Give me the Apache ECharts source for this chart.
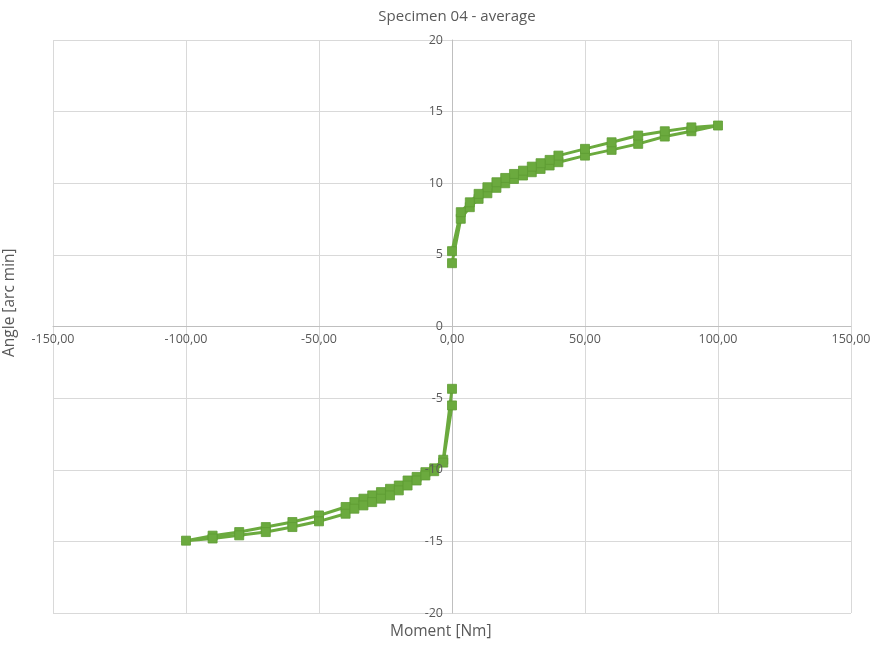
<!DOCTYPE html>
<html>
<head>
<meta charset="utf-8">
<script src="https://cdn.jsdelivr.net/npm/echarts@6/dist/echarts.min.js"></script>
<style>html,body{margin:0;padding:0;background:#fff}#c{width:876px;height:650px}</style>
</head>
<body>
<div id="c"></div>
<script>
// Moment [Nm] values
const posMoment = [0, 3.3, 6.7, 10, 13.3, 16.7, 20, 23.3, 26.7, 30, 33.3, 36.7, 40, 50, 60, 70, 80, 90, 100];
const posLower  = [4.42, 7.52, 8.33, 8.91, 9.30, 9.68, 10.0, 10.3, 10.54, 10.77, 11.0, 11.24, 11.47, 11.93, 12.33, 12.75, 13.26, 13.63, 14.03];
const posUpper  = [5.26, 7.98, 8.67, 9.26, 9.72, 10.07, 10.37, 10.65, 10.88, 11.16, 11.4, 11.63, 11.93, 12.4, 12.86, 13.33, 13.63, 13.9, 14.03];

const negMoment = [0, -3.3, -6.7, -10, -13.3, -16.7, -20, -23.3, -26.7, -30, -33.3, -36.7, -40, -50, -60, -70, -80, -90, -100];
const negUpper  = [-4.35, -9.3, -9.9, -10.17, -10.5, -10.75, -11.1, -11.33, -11.56, -11.79, -12.02, -12.26, -12.6, -13.19, -13.65, -14.0, -14.35, -14.6, -14.95];
const negLower  = [-5.51, -9.5, -10.1, -10.4, -10.75, -11.1, -11.44, -11.79, -12.02, -12.26, -12.49, -12.72, -13.07, -13.6, -14.0, -14.35, -14.58, -14.8, -14.95];

const xTicks = [-150, -100, -50, 0, 50, 100, 150];
const yTicks = [-20, -15, -10, -5, 0, 5, 10, 15, 20];

function loop(m, a, b) {
  const d = m.map((x, i) => [x, a[i]]);
  for (let i = m.length - 2; i >= 0; i--) d.push([m[i], b[i]]);
  return d;
}

const green = '#6BAA3E';
const font = '"Open Sans", "Liberation Sans", sans-serif';
const chart = echarts.init(document.getElementById('c'));
const seriesStyle = {
  type: 'line', symbol: 'rect', symbolSize: 9, showSymbol: true,
  xAxisIndex: 0, yAxisIndex: 0,
  lineStyle: { color: green, width: 3 },
  itemStyle: { color: green, borderColor: '#5E9C34', borderWidth: 0.8 },
  animation: false
};
const grid = { left: 53, right: 25, top: 40, bottom: 37 };
const yBase = {
  type: 'value', min: yTicks[0], max: yTicks[yTicks.length - 1], interval: 5,
  position: 'left', axisTick: { show: false }
};
chart.setOption({
  backgroundColor: '#fff',
  animation: false,
  title: {
    text: 'Specimen 04 - average', left: 452, top: 4, textAlign: 'center',
    textStyle: { fontFamily: font, fontSize: 15, fontWeight: 'normal', color: '#595959' }
  },
  grid: grid,
  xAxis: {
    type: 'value', min: xTicks[0], max: xTicks[xTicks.length - 1], interval: 50,
    axisLine: { onZero: false, lineStyle: { color: '#bfbfbf' } },
    axisTick: { show: false },
    axisLabel: { fontFamily: font, fontSize: 12.5, color: '#595959', margin: 6,
      formatter: v => v.toFixed(2).replace('.', ',') },
    splitLine: { show: true, lineStyle: { color: '#d9d9d9' } }
  },
  yAxis: [
    Object.assign({}, yBase, {
      axisLine: { show: true, onZero: false, lineStyle: { color: '#bfbfbf' } },
      axisLabel: { show: false },
      splitLine: { show: true, lineStyle: { color: '#d9d9d9' } }
    }),
    Object.assign({}, yBase, {
      z: 10,
      axisLine: { show: false, onZero: false },
      axisLabel: { fontFamily: font, fontSize: 12.5, color: '#595959', margin: 9 },
      splitLine: { show: false }
    })
  ],
  graphic: [
    { type: 'text', left: 390, top: 624, style: { text: 'Moment [Nm]', font: '15.5px ' + font, fill: '#595959' } },
    { type: 'text', x: 2, y: 357, rotation: Math.PI / 2, style: { text: 'Angle [arc min]', font: '15.5px ' + font, fill: '#595959' } }
  ],
  series: [
    Object.assign({ name: 'Positive', data: loop(posMoment, posLower, posUpper) }, seriesStyle),
    Object.assign({ name: 'Negative', data: loop(negMoment, negUpper, negLower) }, seriesStyle)
  ]
});
// place axes through the origin
const o = chart.convertToPixel({ gridIndex: 0 }, [0, 0]);
const yOff = -(o[0] - grid.left);
chart.setOption({
  xAxis: { offset: -(650 - grid.bottom - o[1]) },
  yAxis: [{ offset: yOff }, { offset: yOff }]
});
</script>
</body>
</html>
